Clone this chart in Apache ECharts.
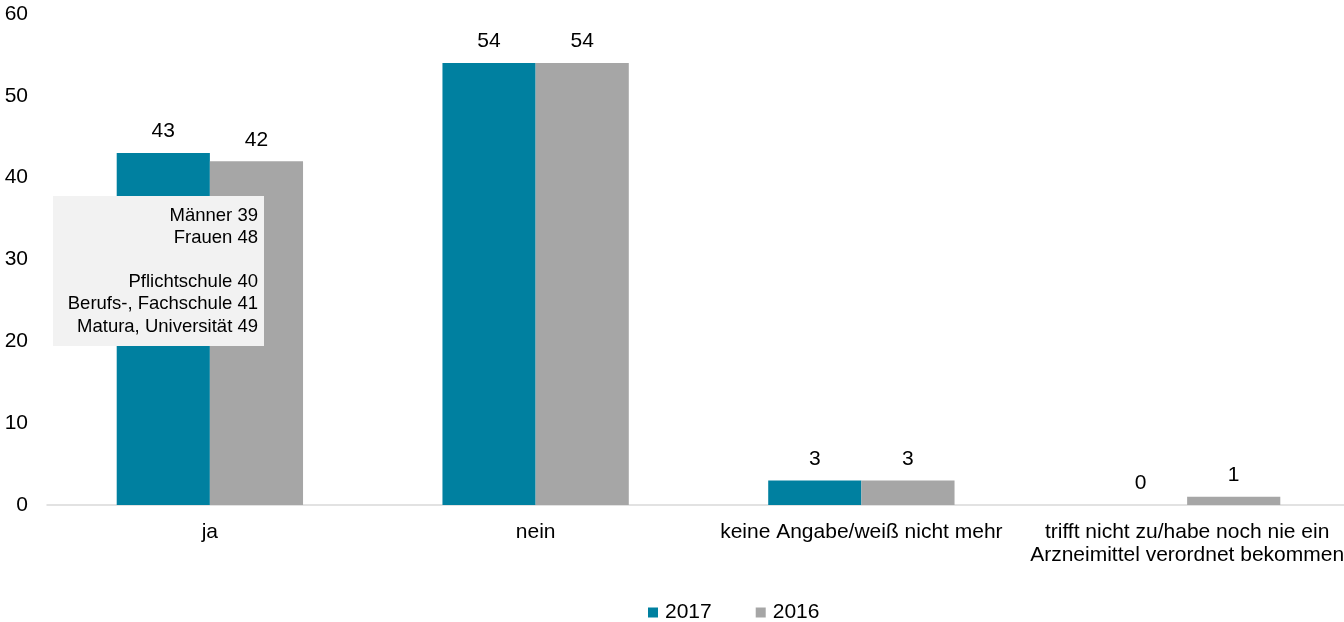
<!DOCTYPE html>
<html><head><meta charset="utf-8">
<script src="https://cdn.jsdelivr.net/npm/echarts@6/dist/echarts.min.js"></script>
<style>html,body{margin:0;padding:0;background:#fff;overflow:hidden}#c{width:1350px;height:622px}</style>
</head><body><div id="c"></div>
<script>
const categories = ["ja", "nein", "keine Angabe/weiß nicht mehr", "trifft nicht zu/habe noch nie ein\nArzneimittel verordnet bekommen"];
const values2017 = [43, 54, 3, 0];
const values2016 = [42, 54, 3, 1];
const yTicks = [0, 10, 20, 30, 40, 50, 60];
const noteLines = ["Männer 39", "Frauen 48", "", "Pflichtschule 40", "Berufs-, Fachschule 41", "Matura, Universität 49"];

const chart = echarts.init(document.getElementById('c'), null, {renderer: 'canvas'});
const font = 'Liberation Sans, Arial, sans-serif';
const lbl = {show: true, position: 'top', distance: 11, color: '#000', fontSize: 21, fontFamily: font};
const noteGraphics = noteLines.map((t, i) => ({
  type: 'text', x: 258, y: 215.5 + i * 22.2, z: 11,
  style: {text: t, align: 'right', verticalAlign: 'middle', fill: '#000', font: '18.5px ' + font}
}));
chart.setOption({
  animation: false,
  grid: {left: 47, right: 0, top: 14, bottom: 117, containLabel: false},
  xAxis: {
    type: 'category', data: categories,
    axisLine: {lineStyle: {color: '#D9D9D9', width: 1.5}},
    axisTick: {show: false},
    axisLabel: {color: '#000', fontSize: 21, fontFamily: font, margin: 16, lineHeight: 23, interval: 0}
  },
  yAxis: {
    type: 'value', min: yTicks[0], max: yTicks[yTicks.length - 1], interval: 10,
    splitLine: {show: false}, axisLine: {show: false}, axisTick: {show: false},
    axisLabel: {color: '#000', fontSize: 21, fontFamily: font, margin: 19}
  },
  legend: {
    top: 602, left: 648, padding: 0, itemWidth: 10, itemHeight: 10, itemGap: 44,
    icon: 'rect',
    textStyle: {color: '#000', fontSize: 21, fontFamily: font, padding: [0, 0, 0, 2]},
    data: ['2017', '2016']
  },
  series: [
    {name: '2017', type: 'bar', data: values2017, barWidth: '28.6%', barGap: '0%', itemStyle: {color: '#0080A0'}, label: lbl},
    {name: '2016', type: 'bar', data: values2016, barWidth: '28.6%', itemStyle: {color: '#A6A6A6'}, label: lbl}
  ],
  graphic: [
    {type: 'rect', left: 53, top: 196, shape: {width: 211, height: 150}, style: {fill: '#F2F2F2'}, z: 10}
  ].concat(noteGraphics)
});
</script></body></html>
